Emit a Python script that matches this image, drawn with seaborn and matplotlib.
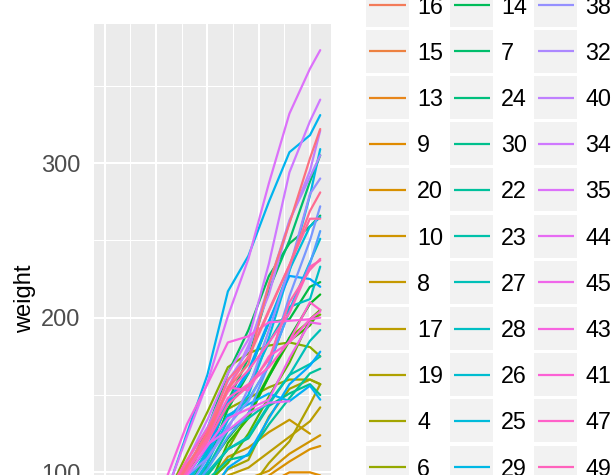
import numpy as np
import pandas as pd
import matplotlib
matplotlib.use("Agg")
import matplotlib.pyplot as plt
import seaborn as sns
from matplotlib.patches import Rectangle

# Measurement days
times = [0, 2, 4, 6, 8, 10, 12, 14, 16, 18, 20, 21]

# Chick weights (grams) by diet; shorter lists end early (chick lost)
diet1 = {
    "1": [42, 51, 59, 64, 76, 93, 106, 125, 149, 171, 199, 205],
    "2": [40, 49, 58, 72, 84, 103, 122, 138, 162, 187, 209, 215],
    "3": [43, 39, 55, 67, 84, 99, 115, 138, 163, 187, 198, 202],
    "4": [42, 49, 56, 67, 74, 87, 102, 108, 136, 154, 160, 157],
    "5": [41, 42, 48, 60, 79, 106, 141, 164, 197, 199, 220, 223],
    "6": [41, 49, 59, 74, 97, 124, 141, 148, 155, 160, 160, 157],
    "7": [41, 49, 57, 71, 89, 112, 146, 174, 218, 250, 288, 305],
    "8": [42, 50, 61, 71, 84, 93, 110, 116, 126, 134, 125],
    "9": [42, 51, 59, 68, 85, 96, 90, 92, 93, 100, 100, 98],
    "10": [41, 44, 52, 63, 74, 81, 89, 96, 101, 112, 120, 124],
    "11": [43, 51, 63, 84, 112, 139, 168, 177, 182, 184, 181, 175],
    "12": [41, 49, 56, 62, 72, 88, 119, 135, 162, 185, 195, 205],
    "13": [41, 48, 53, 60, 65, 67, 71, 70, 71, 81, 91, 96],
    "14": [41, 49, 62, 79, 101, 128, 164, 192, 227, 248, 259, 266],
    "15": [41, 49, 56, 64, 68, 68, 67, 68],
    "16": [41, 45, 49, 51, 57, 51, 54],
    "17": [42, 51, 61, 72, 83, 89, 98, 103, 113, 123, 133, 142],
    "18": [39, 35],
    "19": [43, 48, 55, 62, 65, 71, 82, 88, 106, 120, 144, 157],
    "20": [41, 47, 54, 58, 65, 73, 77, 89, 98, 107, 115, 117],
}
diet2 = {
    "21": [40, 50, 62, 86, 125, 163, 217, 240, 275, 307, 318, 331],
    "22": [41, 55, 64, 77, 90, 95, 108, 111, 131, 148, 164, 167],
    "23": [43, 52, 61, 73, 90, 103, 127, 135, 145, 163, 170, 175],
    "24": [42, 52, 58, 74, 66, 68, 70, 71, 72, 72, 76, 74],
    "25": [40, 49, 62, 78, 102, 124, 146, 164, 197, 231, 259, 265],
    "26": [42, 48, 57, 74, 93, 114, 136, 147, 169, 205, 236, 251],
    "27": [39, 46, 58, 73, 87, 100, 115, 123, 144, 163, 185, 192],
    "28": [39, 46, 58, 73, 92, 114, 145, 156, 184, 207, 212, 233],
    "29": [39, 48, 59, 74, 87, 106, 134, 150, 187, 230, 279, 309],
    "30": [42, 48, 59, 72, 85, 98, 115, 122, 143, 151, 157, 150],
}
diet3 = {
    "31": [42, 53, 62, 73, 85, 102, 123, 138, 170, 204, 235, 256],
    "32": [41, 49, 65, 82, 107, 129, 159, 179, 221, 263, 291, 305],
    "33": [39, 50, 63, 77, 96, 111, 137, 144, 151, 146, 156, 147],
    "34": [41, 49, 63, 85, 107, 134, 164, 186, 235, 294, 327, 341],
    "35": [41, 53, 64, 87, 123, 158, 201, 238, 287, 332, 361, 373],
    "36": [39, 48, 61, 76, 98, 116, 145, 166, 198, 227, 225, 220],
    "37": [41, 48, 56, 68, 80, 83, 103, 112, 135, 157, 169, 178],
    "38": [41, 49, 61, 74, 98, 109, 128, 154, 192, 232, 280, 290],
    "39": [42, 50, 61, 78, 89, 109, 130, 146, 170, 214, 250, 272],
    "40": [41, 55, 66, 79, 101, 120, 154, 182, 215, 262, 295, 321],
}
diet4 = {
    "41": [42, 51, 66, 85, 103, 124, 155, 153, 175, 184, 199, 204],
    "42": [42, 49, 63, 84, 103, 126, 160, 174, 204, 234, 269, 281],
    "43": [42, 55, 69, 96, 131, 157, 184, 188, 197, 198, 199, 200],
    "44": [42, 51, 65, 86, 103, 118, 127, 138, 145, 146],
    "45": [41, 50, 61, 78, 98, 117, 135, 141, 147, 174, 197, 196],
    "46": [40, 52, 62, 82, 101, 120, 144, 156, 173, 210, 231, 238],
    "47": [41, 53, 66, 79, 100, 123, 148, 157, 168, 185, 210, 205],
    "48": [39, 50, 62, 80, 104, 125, 154, 170, 222, 261, 303, 322],
    "49": [40, 53, 64, 85, 108, 128, 152, 166, 184, 203, 233, 237],
    "50": [41, 54, 67, 84, 105, 122, 155, 175, 205, 234, 264, 264],
}

# Factor order of the Chick variable (ordered by final weight within diet)
chick_levels = ["18", "16", "15", "13", "9", "20", "10", "8", "17", "19",
                "4", "6", "11", "3", "1", "12", "2", "5", "14", "7",
                "24", "30", "22", "23", "27", "28", "26", "25", "29", "21",
                "33", "37", "36", "31", "39", "38", "32", "40", "34", "35",
                "44", "45", "43", "41", "47", "49", "46", "50", "42", "48"]

y_ticks = [100, 200, 300]


def hcl_hex(h, c=100.0, l=65.0):
    """Polar CIE-Luv to sRGB hex, as used by ggplot's default hue scale."""
    white_y, white_u, white_v = 100.0, 0.1978398, 0.4683363
    hr = np.deg2rad(h)
    U, V = c * np.cos(hr), c * np.sin(hr)
    Y = white_y * ((l + 16) / 116) ** 3 if l > 7.999592 else white_y * l / 903.3
    u = U / (13 * l) + white_u
    v = V / (13 * l) + white_v
    X = 9.0 * Y * u / (4 * v)
    Z = -X / 3 - 5 * Y + 3 * Y / v

    def gtrans(x):
        return 1.055 * x ** (1 / 2.4) - 0.055 if x > 0.00304 else 12.92 * x

    r = gtrans((3.240479 * X - 1.537150 * Y - 0.498535 * Z) / white_y)
    g = gtrans((-0.969256 * X + 1.875992 * Y + 0.041556 * Z) / white_y)
    b = gtrans((0.055648 * X - 0.204043 * Y + 1.057311 * Z) / white_y)
    rgb = [min(max(x, 0.0), 1.0) for x in (r, g, b)]
    return "#%02X%02X%02X" % tuple(int(round(255 * x)) for x in rgb)


n = len(chick_levels)
hues = np.linspace(15, 375, n + 1)[:n]
palette = {ch: hcl_hex(h) for ch, h in zip(chick_levels, hues)}

rows = []
for group in (diet1, diet2, diet3, diet4):
    for ch, ws in group.items():
        for t, w in zip(times, ws):
            rows.append({"Chick": ch, "Time": t, "weight": w})
df = pd.DataFrame(rows)

sns.set_style("white")
plt.rcParams["font.family"] = ["Liberation Sans", "DejaVu Sans"]

W, H = 614, 475
fig = plt.figure(figsize=(W / 100, H / 100), dpi=100)

# Panel placed in pixel units; the lower part of the panel lies outside the canvas
px_left, px_right, px_top, px_bottom = 94, 331, 24, 599
ax = fig.add_axes([px_left / W, (H - px_bottom) / H,
                   (px_right - px_left) / W, (px_bottom - px_top) / H])
ax.set_facecolor("#EBEBEB")

line_w = 1.6
sns.lineplot(data=df, x="Time", y="weight", hue="Chick", hue_order=chick_levels,
             palette=palette, estimator=None, legend=False, linewidth=line_w,
             ax=ax)

ymin, ymax = df["weight"].min(), df["weight"].max()
ypad = 0.05 * (ymax - ymin)
xpad = 0.05 * (max(times) - min(times))
ax.set_xlim(min(times) - xpad, max(times) + xpad)
ax.set_ylim(ymin - ypad, ymax + ypad)

ax.set_xticks([0, 5, 10, 15, 20])
ax.set_xticks([2.5, 7.5, 12.5, 17.5], minor=True)
ax.set_yticks(y_ticks)
ax.set_yticks([150, 250, 350], minor=True)
ax.set_yticklabels([str(v) for v in y_ticks])
ax.grid(which="major", color="white", linewidth=1.5)
ax.grid(which="minor", color="white", linewidth=0.75)
ax.set_axisbelow(True)
for s in ax.spines.values():
    s.set_visible(False)
ax.tick_params(axis="y", which="major", labelsize=17, labelcolor="#4D4D4D",
               length=4.3, width=1.5, color="#333333", pad=5.6)
ax.tick_params(axis="both", which="minor", length=0)
ax.tick_params(axis="x", which="major", length=0, labelbottom=False)
ax.set_xlabel("")
ax.set_ylabel("")

fig.text(25 / W, 1 - 299 / H, "weight", rotation=90, ha="center", va="center",
         fontsize=17, color="black")

# Legend: three columns of keys, drawn in pixel coordinates
lax = fig.add_axes([0, 0, 1, 1])
lax.set_xlim(0, W)
lax.set_ylim(H, 0)
lax.axis("off")
nrow = int(np.ceil(n / 3))
col_x = [366.0, 450.2, 534.4]
row_pitch = 46.2
key = 43.0
for i, ch in enumerate(chick_levels):
    c, r = divmod(i, nrow)
    x0 = col_x[c]
    yc = 51.3 + (r - 2) * row_pitch
    lax.add_patch(Rectangle((x0, yc - key / 2), key, key, facecolor="#F2F2F2",
                            edgecolor="none"))
    lax.plot([x0 + 3.3, x0 + 39.7], [yc, yc], color=palette[ch], linewidth=line_w,
             solid_capstyle="butt")
    lax.text(x0 + 51.0, yc + 8.4, ch, ha="left", va="baseline", fontsize=16.8,
             color="black")

fig.savefig("out.png", dpi=100)
